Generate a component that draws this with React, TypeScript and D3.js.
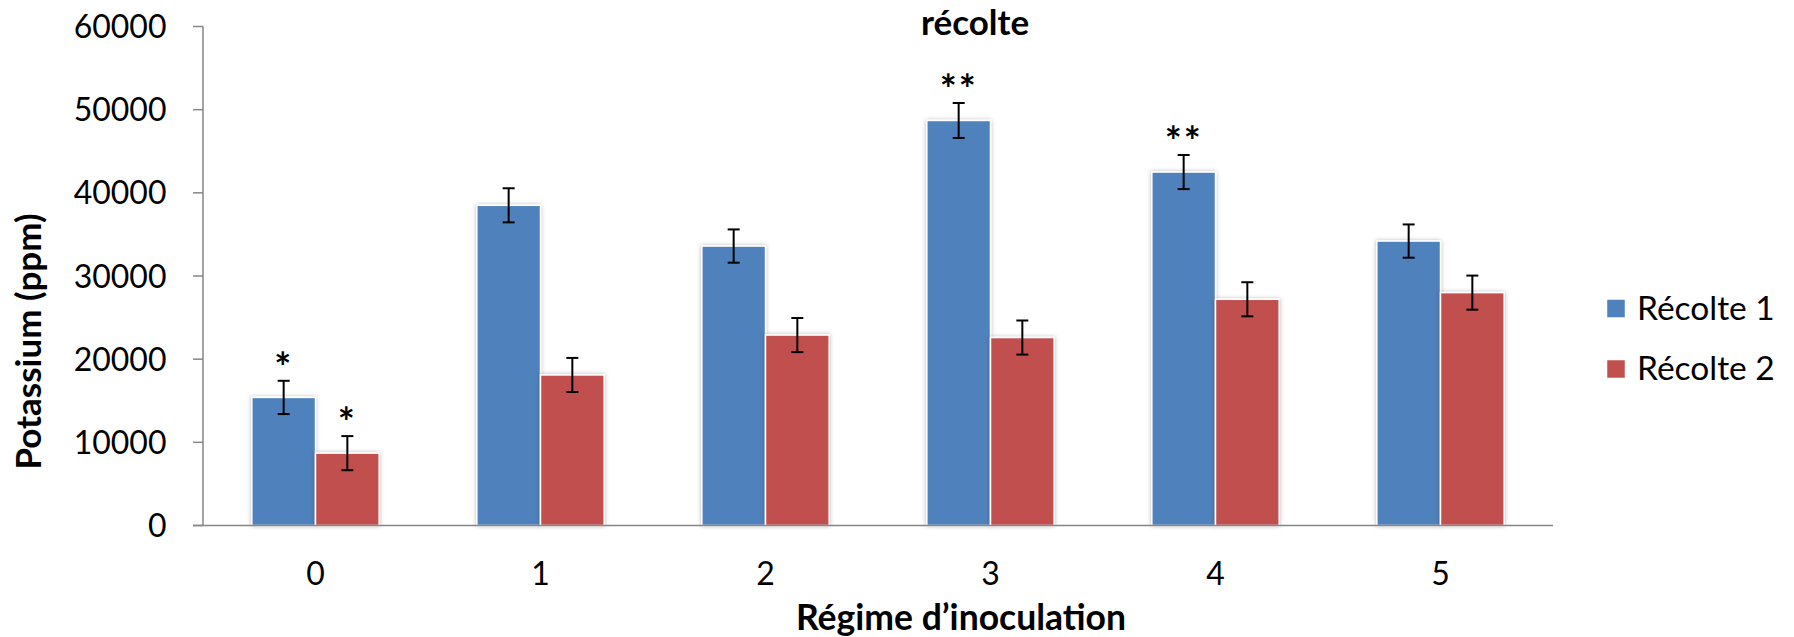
import React from 'react';
import * as d3 from 'd3';

// Potassium content per inoculation regime, two harvests
const categories = ['0', '1', '2', '3', '4', '5'];
const seriesNames = ['Récolte 1', 'Récolte 2'];
const recolte1 = [15400, 38500, 33600, 48700, 42500, 34200];
const recolte2 = [8700, 18100, 22900, 22600, 27200, 28000];
const erreur1 = [2000, 2050, 2000, 2100, 2050, 2000];
const erreur2 = [2050, 2050, 2050, 2050, 2050, 2050];
const signif1 = ['*', '', '', '**', '**', ''];
const signif2 = ['*', '', '', '', '', ''];
const yTicks = [0, 10000, 20000, 30000, 40000, 50000, 60000];

const colors = ['#4F81BD', '#C0504D'];
const font = "Lato, 'Open Sans', sans-serif";

const W = 1794;
const H = 637;
const plotLeft = 203;
const plotRight = 1553;
const plotTop = 26.5;
const plotBottom = 525.5;
const starSize = 40;

export default function App() {
  const x0 = d3
    .scaleBand<string>()
    .domain(categories)
    .range([plotLeft, plotRight])
    .paddingInner(0.434)
    .paddingOuter(0.217);
  const x1 = d3
    .scaleBand<string>()
    .domain(seriesNames)
    .range([0, x0.bandwidth()])
    .padding(0);
  const y = d3.scaleLinear().domain([0, 60000]).range([plotBottom, plotTop]);

  const series = [
    { name: seriesNames[0], values: recolte1, errs: erreur1, sig: signif1, color: colors[0] },
    { name: seriesNames[1], values: recolte2, errs: erreur2, sig: signif2, color: colors[1] },
  ];

  const axisColor = '#868686';

  return (
    <svg
      width={W}
      height={H}
      viewBox={`0 0 ${W} ${H}`}
      style={{ position: 'absolute', left: 0, top: 0, display: 'block', background: '#fff' }}
    >
      <defs>
        <filter id="barShadow" x="-20%" y="-5%" width="140%" height="110%">
          <feDropShadow dx="0" dy="0" stdDeviation="2" floodColor="#000" floodOpacity="0.28" />
        </filter>
      </defs>
      <rect x={0} y={0} width={W} height={H} fill="#fff" />

      {/* title */}
      <text x={975} y={35} textAnchor="middle" fontFamily={font} fontWeight={700} fontSize={35} fill="#000">
        récolte
      </text>

      {/* y axis */}
      <line x1={plotLeft} x2={plotLeft} y1={plotTop} y2={plotBottom} stroke={axisColor} strokeWidth={1.5} />
      {yTicks.map((t) => (
        <g key={t}>
          <line x1={plotLeft - 10} x2={plotLeft} y1={y(t)} y2={y(t)} stroke={axisColor} strokeWidth={1.5} />
          <text
            x={166.5}
            y={y(t)}
            dy="0.36em"
            textAnchor="end"
            fontFamily={font}
            fontSize={32}
            fill="#000"
          >
            {t}
          </text>
        </g>
      ))}

      {/* bars */}
      {categories.map((c, i) => (
        <g key={c} transform={`translate(${x0(c)},0)`}>
          {series.map((s) => (
            <rect
              key={s.name}
              x={x1(s.name)}
              y={y(s.values[i])}
              width={x1.bandwidth()}
              height={y(0) - y(s.values[i])}
              fill={s.color}
              stroke="#fff"
              strokeWidth={1.5}
              filter="url(#barShadow)"
            />
          ))}
        </g>
      ))}

      {/* x axis */}
      <line x1={plotLeft - 10} x2={plotRight} y1={plotBottom} y2={plotBottom} stroke={axisColor} strokeWidth={1.5} />

      {/* error bars and significance marks */}
      {categories.map((c, i) => (
        <g key={c} transform={`translate(${x0(c)},0)`}>
          {series.map((s) => {
            const cx = (x1(s.name) as number) + x1.bandwidth() / 2;
            const top = y(s.values[i] + s.errs[i]);
            const bot = y(s.values[i] - s.errs[i]);
            return (
              <g key={s.name}>
                <line x1={cx} x2={cx} y1={top} y2={bot} stroke="#000" strokeWidth={2} />
                <line x1={cx - 6} x2={cx + 6} y1={top} y2={top} stroke="#000" strokeWidth={2} />
                <line x1={cx - 6} x2={cx + 6} y1={bot} y2={bot} stroke="#000" strokeWidth={2} />
                {s.sig[i] && (
                  <text
                    x={cx}
                    y={top - 23 + 0.6 * starSize}
                    textAnchor="middle"
                    fontFamily={font}
                    fontSize={starSize}
                    fontWeight={700}
                    letterSpacing={2}
                    fill="#000"
                  >
                    {s.sig[i]}
                  </text>
                )}
              </g>
            );
          })}
        </g>
      ))}

      {/* category labels */}
      {categories.map((c) => (
        <text
          key={c}
          x={(x0(c) as number) + x0.bandwidth() / 2}
          y={585}
          textAnchor="middle"
          fontFamily={font}
          fontSize={32}
          fill="#000"
        >
          {c}
        </text>
      ))}

      {/* axis titles */}
      <text x={961} y={630} textAnchor="middle" fontFamily={font} fontWeight={700} fontSize={35.5} fill="#000">
        Régime d’inoculation
      </text>
      <text
        transform={`translate(28,341.5) rotate(-90)`}
        textAnchor="middle"
        dy="0.36em"
        fontFamily={font}
        fontWeight={700}
        fontSize={35}
        fill="#000"
      >
        Potassium (ppm)
      </text>

      {/* legend */}
      {series.map((s, k) => (
        <g key={s.name} transform={`translate(1607,${299.5 + k * 60.5})`}>
          <rect x={0} y={0} width={18} height={18} fill={s.color} stroke="#fff" strokeWidth={0.5} />
          <text x={30} y={20} fontFamily={font} fontSize={33.5} fill="#000">
            {s.name}
          </text>
        </g>
      ))}
    </svg>
  );
}
